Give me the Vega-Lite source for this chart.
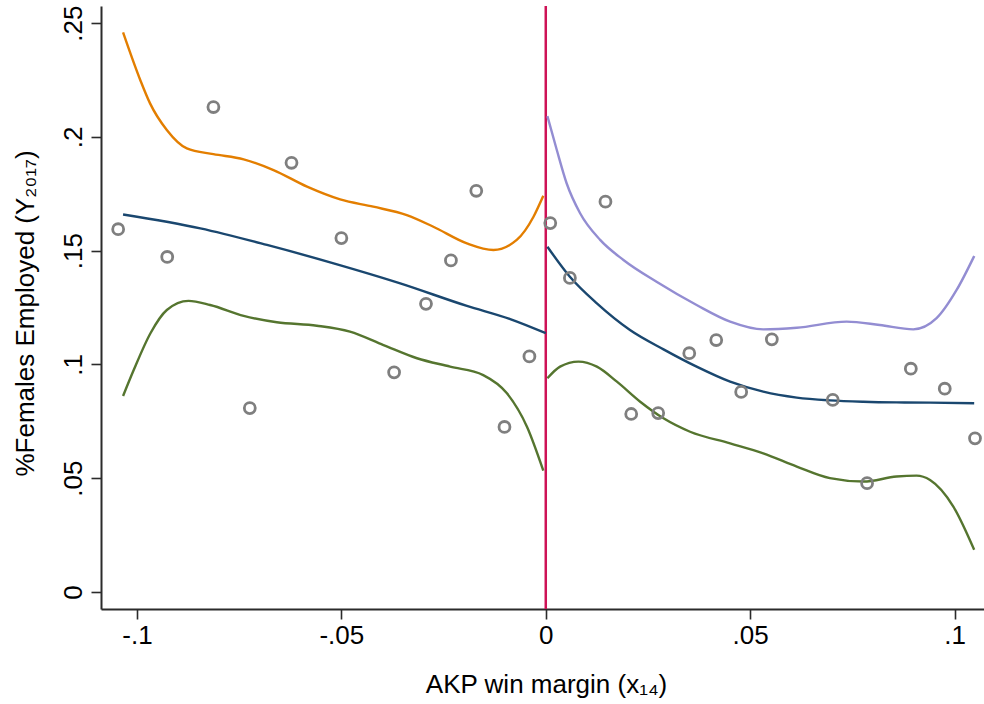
{
  "$schema": "https://vega.github.io/schema/vega-lite/v6.json",
  "width": 883,
  "height": 603,
  "autosize": {"type": "none"},
  "padding": {"left": 101, "top": 6, "right": 0, "bottom": 95},
  "background": "white",
  "datasets": {
    "bins": [
      {"margin": -0.1046, "share": 0.1594},
      {"margin": -0.0926, "share": 0.1472},
      {"margin": -0.0813, "share": 0.2131},
      {"margin": -0.0724, "share": 0.0808},
      {"margin": -0.0622, "share": 0.1886},
      {"margin": -0.0500, "share": 0.1555},
      {"margin": -0.0371, "share": 0.0965},
      {"margin": -0.0293, "share": 0.1266},
      {"margin": -0.0232, "share": 0.1457},
      {"margin": -0.0170, "share": 0.1763},
      {"margin": -0.0101, "share": 0.0725},
      {"margin": -0.0040, "share": 0.1035},
      {"margin": 0.0011, "share": 0.1621},
      {"margin": 0.0059, "share": 0.1380},
      {"margin": 0.0146, "share": 0.1715},
      {"margin": 0.0209, "share": 0.0782},
      {"margin": 0.0275, "share": 0.0786},
      {"margin": 0.0351, "share": 0.1049},
      {"margin": 0.0417, "share": 0.1107},
      {"margin": 0.0478, "share": 0.0879},
      {"margin": 0.0553, "share": 0.1110},
      {"margin": 0.0702, "share": 0.0844},
      {"margin": 0.0786, "share": 0.0478},
      {"margin": 0.0893, "share": 0.0981},
      {"margin": 0.0976, "share": 0.0893},
      {"margin": 0.1050, "share": 0.0675}
    ],
    "curves": [
      {"series": "fit_left", "margin": -0.1034, "share": 0.1659},
      {"series": "fit_left", "margin": -0.0845, "share": 0.1598},
      {"series": "fit_left", "margin": -0.0682, "share": 0.1525},
      {"series": "fit_left", "margin": -0.0519, "share": 0.1444},
      {"series": "fit_left", "margin": -0.0356, "share": 0.1356},
      {"series": "fit_left", "margin": -0.0193, "share": 0.1257},
      {"series": "fit_left", "margin": -0.0087, "share": 0.1199},
      {"series": "fit_left", "margin": 0.0, "share": 0.1137},

      {"series": "hi_left", "margin": -0.1034, "share": 0.2459},
      {"series": "hi_left", "margin": -0.0992, "share": 0.2250},
      {"series": "hi_left", "margin": -0.0968, "share": 0.2147},
      {"series": "hi_left", "margin": -0.0927, "share": 0.2030},
      {"series": "hi_left", "margin": -0.0878, "share": 0.1949},
      {"series": "hi_left", "margin": -0.0813, "share": 0.1924},
      {"series": "hi_left", "margin": -0.0739, "share": 0.1901},
      {"series": "hi_left", "margin": -0.0666, "share": 0.1854},
      {"series": "hi_left", "margin": -0.0584, "share": 0.1781},
      {"series": "hi_left", "margin": -0.0503, "share": 0.1725},
      {"series": "hi_left", "margin": -0.0422, "share": 0.1693},
      {"series": "hi_left", "margin": -0.0340, "share": 0.1656},
      {"series": "hi_left", "margin": -0.0275, "share": 0.1605},
      {"series": "hi_left", "margin": -0.0193, "share": 0.1532},
      {"series": "hi_left", "margin": -0.0128, "share": 0.1503},
      {"series": "hi_left", "margin": -0.0071, "share": 0.1547},
      {"series": "hi_left", "margin": -0.0030, "share": 0.1649},
      {"series": "hi_left", "margin": -0.0006, "share": 0.1741},

      {"series": "lo_left", "margin": -0.1034, "share": 0.0861},
      {"series": "lo_left", "margin": -0.1008, "share": 0.0975},
      {"series": "lo_left", "margin": -0.0967, "share": 0.1137},
      {"series": "lo_left", "margin": -0.0927, "share": 0.1239},
      {"series": "lo_left", "margin": -0.0874, "share": 0.1279},
      {"series": "lo_left", "margin": -0.0821, "share": 0.1261},
      {"series": "lo_left", "margin": -0.0739, "share": 0.1213},
      {"series": "lo_left", "margin": -0.0658, "share": 0.1185},
      {"series": "lo_left", "margin": -0.0560, "share": 0.1170},
      {"series": "lo_left", "margin": -0.0479, "share": 0.1144},
      {"series": "lo_left", "margin": -0.0397, "share": 0.1085},
      {"series": "lo_left", "margin": -0.0315, "share": 0.1027},
      {"series": "lo_left", "margin": -0.0234, "share": 0.0990},
      {"series": "lo_left", "margin": -0.0153, "share": 0.0953},
      {"series": "lo_left", "margin": -0.0095, "share": 0.0873},
      {"series": "lo_left", "margin": -0.0046, "share": 0.0726},
      {"series": "lo_left", "margin": -0.0006, "share": 0.0533},

      {"series": "fit_right", "margin": 0.0004, "share": 0.1517},
      {"series": "fit_right", "margin": 0.0059, "share": 0.1385},
      {"series": "fit_right", "margin": 0.0125, "share": 0.1268},
      {"series": "fit_right", "margin": 0.0206, "share": 0.1151},
      {"series": "fit_right", "margin": 0.0288, "share": 0.1066},
      {"series": "fit_right", "margin": 0.0369, "share": 0.0990},
      {"series": "fit_right", "margin": 0.0451, "share": 0.0924},
      {"series": "fit_right", "margin": 0.0532, "share": 0.0880},
      {"series": "fit_right", "margin": 0.0614, "share": 0.0854},
      {"series": "fit_right", "margin": 0.0695, "share": 0.0842},
      {"series": "fit_right", "margin": 0.0777, "share": 0.0836},
      {"series": "fit_right", "margin": 0.0858, "share": 0.0833},
      {"series": "fit_right", "margin": 0.0940, "share": 0.0832},
      {"series": "fit_right", "margin": 0.1048, "share": 0.0829},

      {"series": "hi_right", "margin": 0.0004, "share": 0.2091},
      {"series": "hi_right", "margin": 0.0027, "share": 0.1942},
      {"series": "hi_right", "margin": 0.0051, "share": 0.1796},
      {"series": "hi_right", "margin": 0.0084, "share": 0.1664},
      {"series": "hi_right", "margin": 0.0133, "share": 0.1547},
      {"series": "hi_right", "margin": 0.0190, "share": 0.1459},
      {"series": "hi_right", "margin": 0.0271, "share": 0.1363},
      {"series": "hi_right", "margin": 0.0369, "share": 0.1261},
      {"series": "hi_right", "margin": 0.0451, "share": 0.1188},
      {"series": "hi_right", "margin": 0.0532, "share": 0.1154},
      {"series": "hi_right", "margin": 0.0614, "share": 0.1161},
      {"series": "hi_right", "margin": 0.0736, "share": 0.1188},
      {"series": "hi_right", "margin": 0.0817, "share": 0.1173},
      {"series": "hi_right", "margin": 0.0899, "share": 0.1154},
      {"series": "hi_right", "margin": 0.0956, "share": 0.1203},
      {"series": "hi_right", "margin": 0.1005, "share": 0.1327},
      {"series": "hi_right", "margin": 0.1048, "share": 0.1476},

      {"series": "lo_right", "margin": 0.0004, "share": 0.0939},
      {"series": "lo_right", "margin": 0.0035, "share": 0.0990},
      {"series": "lo_right", "margin": 0.0080, "share": 0.1012},
      {"series": "lo_right", "margin": 0.0125, "share": 0.0990},
      {"series": "lo_right", "margin": 0.0174, "share": 0.0924},
      {"series": "lo_right", "margin": 0.0231, "share": 0.0836},
      {"series": "lo_right", "margin": 0.0288, "share": 0.0763},
      {"series": "lo_right", "margin": 0.0353, "share": 0.0704},
      {"series": "lo_right", "margin": 0.0451, "share": 0.0653},
      {"series": "lo_right", "margin": 0.0532, "share": 0.0609},
      {"series": "lo_right", "margin": 0.0614, "share": 0.0551},
      {"series": "lo_right", "margin": 0.0695, "share": 0.0500},
      {"series": "lo_right", "margin": 0.0777, "share": 0.0485},
      {"series": "lo_right", "margin": 0.0858, "share": 0.0507},
      {"series": "lo_right", "margin": 0.0907, "share": 0.0511},
      {"series": "lo_right", "margin": 0.0940, "share": 0.0492},
      {"series": "lo_right", "margin": 0.0997, "share": 0.0375},
      {"series": "lo_right", "margin": 0.1048, "share": 0.0185}
    ],
    "cutoff": [{"margin": 0}]
  },
  "layer": [
    {
      "data": {"name": "cutoff"},
      "mark": {"type": "rule", "color": "#ce1256", "strokeWidth": 2.5},
      "encoding": {
        "x": {
          "field": "margin", "type": "quantitative",
          "scale": {"domain": [-0.1088, 0.1072], "nice": false, "zero": false},
          "axis": {
            "title": "AKP win margin (x₁₄)",
            "values": [-0.1, -0.05, 0, 0.05, 0.1],
            "labelExpr": "datum.value == 0 ? '0' : (datum.value < 0 ? '-' : '') + replace(format(abs(datum.value), '.2~f'), '0.', '.')",
            "labelBaseline": "top", "labelPadding": 3, "labelFlush": false, "labelOverlap": false,
            "titleX": 445, "titleY": 83, "titleAlign": "center", "titleBaseline": "alphabetic"
          }
        }
      }
    },
    {
      "data": {"name": "curves"},
      "mark": {"type": "line", "strokeWidth": 2.4, "interpolate": "monotone"},
      "encoding": {
        "x": {"field": "margin", "type": "quantitative", "scale": {"domain": [-0.1088, 0.1072], "nice": false, "zero": false}, "title": "AKP win margin (x₁₄)"},
        "y": {
          "field": "share", "type": "quantitative",
          "scale": {"domain": [-0.0075, 0.2575], "nice": false, "zero": false},
          "axis": {
            "title": "%Females Employed (Y₂₀₁₇)",
            "values": [0, 0.05, 0.1, 0.15, 0.2, 0.25],
            "labelExpr": "datum.value == 0 ? '0' : replace(format(datum.value, '.2~f'), '0.', '.')",
            "labelAngle": 270, "labelAlign": "center", "labelBaseline": "alphabetic", "labelPadding": 10,
            "labelFlush": false, "labelOverlap": false,
            "titleAngle": 270, "titleX": -68, "titleY": 307, "titleAlign": "center", "titleBaseline": "alphabetic"
          }
        },
        "detail": {"field": "series"},
        "color": {
          "field": "series", "type": "nominal", "legend": null,
          "scale": {
            "domain": ["fit_left", "hi_left", "lo_left", "fit_right", "hi_right", "lo_right"],
            "range": ["#1a476f", "#e37e00", "#55752f", "#1a476f", "#938dd2", "#55752f"]
          }
        }
      }
    },
    {
      "data": {"name": "bins"},
      "mark": {"type": "point", "shape": "circle", "filled": false, "size": 120, "strokeWidth": 2.8, "color": "#7f7f7f", "opacity": 1},
      "encoding": {
        "x": {"field": "margin", "type": "quantitative", "scale": {"domain": [-0.1088, 0.1072], "nice": false, "zero": false}, "title": "AKP win margin (x₁₄)"},
        "y": {"field": "share", "type": "quantitative", "scale": {"domain": [-0.0075, 0.2575], "nice": false, "zero": false}, "title": "%Females Employed (Y₂₀₁₇)"}
      }
    }
  ],
  "config": {
    "view": {"stroke": null},
    "font": "Liberation Sans",
    "axis": {
      "grid": false,
      "domainColor": "#2b2b2b", "domainWidth": 2,
      "tickColor": "#2b2b2b", "tickWidth": 1.6, "tickSize": 10,
      "labelFont": "Liberation Sans", "labelFontSize": 26, "labelColor": "#000000",
      "titleFont": "Liberation Sans", "titleFontSize": 26, "titleFontWeight": "normal", "titleColor": "#000000"
    }
  }
}
